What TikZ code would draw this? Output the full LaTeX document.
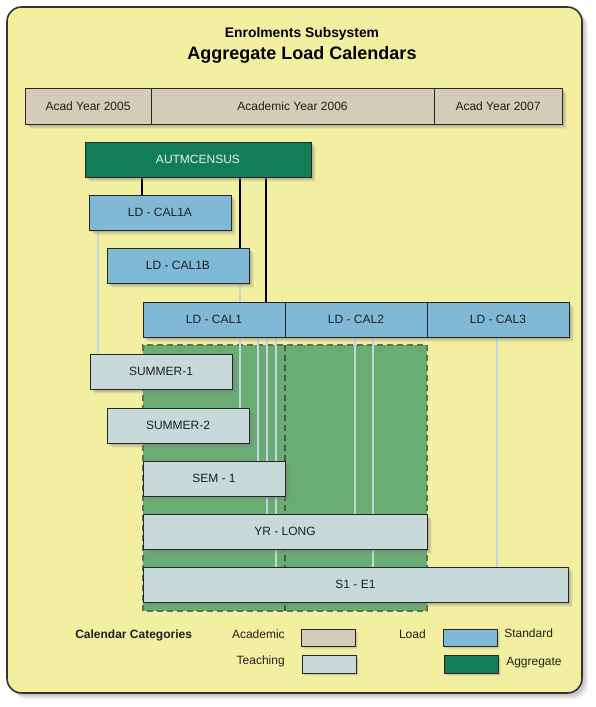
\documentclass[tikz,border=0pt]{standalone}
\usepackage{fontspec}
\setmainfont{Liberation Sans}
\usetikzlibrary{shadows}
\definecolor{panelbg}{HTML}{F2F0A0}
\definecolor{acadcol}{HTML}{D4CCB8}
\definecolor{loadcol}{HTML}{80B9D5}
\definecolor{aggcol}{HTML}{137D57}
\definecolor{teachcol}{HTML}{C8D9DA}
\definecolor{areacol}{HTML}{69AD72}
\definecolor{areaedge}{HTML}{5A7256}
\definecolor{linkcol}{HTML}{C5D6E0}
\pgfdeclarelayer{back}
\pgfdeclarelayer{links}
\pgfsetlayers{back,links,main}
\tikzset{
  softshadow/.style={
    drop shadow={shadow xshift=3.6pt, shadow yshift=-3.6pt, opacity=0.1},
    drop shadow={shadow xshift=2.8pt, shadow yshift=-2.8pt, opacity=0.14},
    drop shadow={shadow xshift=2pt, shadow yshift=-2pt, opacity=0.18},
    drop shadow={shadow xshift=1.2pt, shadow yshift=-1.2pt, opacity=0.2}},
  cal/.style={draw=black!85, line width=0.75pt, inner sep=0pt, minimum height=26.25pt,
    font=\fontsize{9}{10}\selectfont, text=black!88, softshadow},
  acad/.style={cal, fill=acadcol, minimum height=27pt},
  load/.style={cal, fill=loadcol},
  agg/.style={cal, fill=aggcol, text=white!90!aggcol},
  teach/.style={cal, fill=teachcol},
  agglink/.style={line width=2.2pt, black},
  teachlink/.style={line width=1.6pt, linkcol},
  lgbox/.style={draw=black!85, line width=0.75pt, minimum width=40.5pt,
    minimum height=12.75pt, inner sep=0pt, anchor=north west,
    drop shadow={shadow xshift=1.6pt, shadow yshift=-1.6pt, opacity=0.15},
    drop shadow={shadow xshift=0.9pt, shadow yshift=-0.9pt, opacity=0.2}},
  lgtext/.style={font=\fontsize{9}{10}\selectfont, inner sep=0pt, text=black!88}
}
\begin{document}
\begin{tikzpicture}[x=0.75pt, y=-0.75pt]
\useasboundingbox (0,0) rectangle (596,707);
\begin{pgfonlayer}{back}
\fill[white] (0,0) rectangle (596,707);
% panel
\draw[fill=panelbg, draw=black!80, line width=1.2pt, rounded corners=11pt,
  drop shadow={shadow xshift=5pt, shadow yshift=-5pt, opacity=0.08},
  drop shadow={shadow xshift=4pt, shadow yshift=-4pt, opacity=0.1},
  drop shadow={shadow xshift=3pt, shadow yshift=-3pt, opacity=0.15},
  drop shadow={shadow xshift=2pt, shadow yshift=-2pt, opacity=0.2}] (7,7) rectangle (582,693);
% aggregate area
\fill[areacol] (143,345) rectangle (427,611);
\draw[areaedge, line width=0.8pt, dash pattern=on 4.5pt off 3pt] (143,611) -- (143,345) -- (427,345) -- (427,611) -- cycle;
\draw[areaedge!80!black, line width=0.8pt, dash pattern=on 4.5pt off 3pt] (285,345) -- (285,611);
\end{pgfonlayer}

% titles
\node[anchor=base, font=\bfseries\fontsize{10.4}{12}\selectfont] (subsys) at (302,37.5) {Enrolments Subsystem};
\node[anchor=base, font=\bfseries\fontsize{13.5}{16}\selectfont] (title) at (302,59) {Aggregate Load Calendars};

% academic years
\node[acad, minimum width=94.5pt] (y2005) at (88,106) {Acad Year 2005};
\node[acad, minimum width=212.25pt] (y2006) at (292.5,106) {Academic Year 2006};
\node[acad, minimum width=96pt] (y2007) at (498,106) {Acad Year 2007};

% load calendars
\node[agg, minimum width=169.5pt] (autm) at (198,159.5) {AUTMCENSUS};
\node[load, minimum width=106.5pt] (cal1a) at (160,212.5) {LD - CAL1A};
\node[load, minimum width=106.5pt] (cal1b) at (178,265.5) {LD - CAL1B};
\node[load, minimum width=106.5pt] (cal1) at (214,319.5) {LD - CAL1};
\node[load, minimum width=106.5pt] (cal2) at (356,319.5) {LD - CAL2};
\node[load, minimum width=106.5pt] (cal3) at (498,319.5) {LD - CAL3};

% teaching calendars
\node[teach, minimum width=106.5pt] (summer1) at (161,371.5) {SUMMER-1};
\node[teach, minimum width=106.5pt] (summer2) at (178,425.5) {SUMMER-2};
\node[teach, minimum width=106.5pt] (sem1) at (214,478.5) {SEM - 1};
\node[teach, minimum width=213pt] (yrlong) at (285,531.5) {YR - LONG};
\node[teach, minimum width=318.75pt] (s1e1) at (355.5,584.5) {S1 - E1};

\begin{pgfonlayer}{links}
\draw[agglink] (142,0 |- autm.south) -- (142,0 |- cal1a.north);
\draw[agglink] (240,0 |- autm.south) -- (240,0 |- cal1b.north);
\draw[agglink] (266,0 |- autm.south) -- (266,0 |- cal1.north);
\draw[teachlink] (98,0 |- cal1a.south) -- (98,0 |- summer1.north);
\draw[teachlink] (240,0 |- cal1b.south) -- (240,0 |- summer2.north);
\draw[teachlink] (258,0 |- cal1.south) -- (258,0 |- sem1.north);
\draw[teachlink] (267,0 |- cal1.south) -- (267,0 |- yrlong.north);
\draw[teachlink] (276,0 |- cal1.south) -- (276,0 |- s1e1.north);
\draw[teachlink] (355,0 |- cal2.south) -- (355,0 |- yrlong.north);
\draw[teachlink] (373,0 |- cal2.south) -- (373,0 |- s1e1.north);
\draw[teachlink] (497,0 |- cal3.south) -- (497,0 |- s1e1.north);
\end{pgfonlayer}

% legend
\node[lgtext, anchor=base west, font=\bfseries\fontsize{9}{10}\selectfont] (lgcat) at (75,638) {Calendar Categories};
\node[lgtext, anchor=base east] (lgacadtxt) at (285,638) {Academic};
\node[lgtext, anchor=base east] (lgteachtxt) at (285,664) {Teaching};
\node[lgtext, anchor=base east] (lgloadtxt) at (426,638) {Load};
\node[lgtext, anchor=base west] (lgstdtxt) at (504,637) {Standard};
\node[lgtext, anchor=base west] (lgaggtxt) at (506,665) {Aggregate};
\node[lgbox, fill=acadcol] (lgacad) at (301,629) {};
\node[lgbox, fill=teachcol, minimum height=13.5pt] (lgteach) at (302,655) {};
\node[lgbox, fill=loadcol] (lgstd) at (443,629) {};
\node[lgbox, fill=aggcol, minimum height=13.5pt] (lgagg) at (444,655) {};
\end{tikzpicture}
\end{document}
